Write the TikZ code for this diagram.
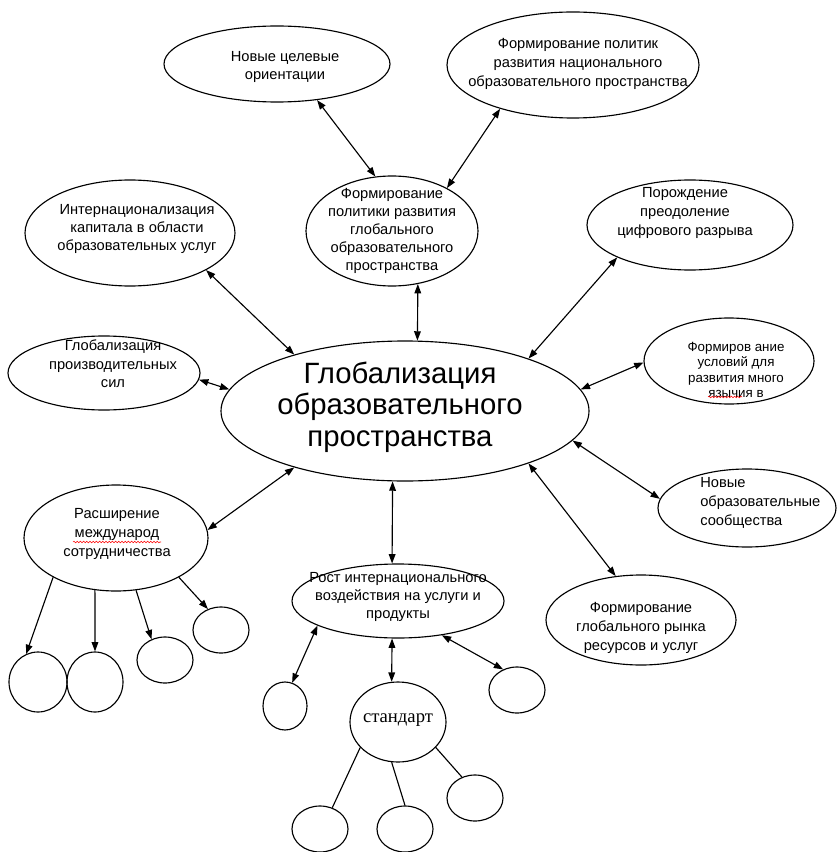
\documentclass[tikz,border=0pt]{standalone}
\usepackage{fontspec}
\setmainfont{Liberation Sans}
\newfontfamily\serifr{Liberation Serif}
\usetikzlibrary{shapes.geometric,arrows.meta,decorations.pathmorphing}
\tikzset{
 ov/.style={draw,ellipse,inner sep=0pt,line width=0.85pt},
 tx/.style={align=center,inner sep=0pt,font=\fontsize{11}{14}\selectfont},
 dbl/.style={line width=0.85pt,{Triangle[length=7pt,width=5pt]}-{Triangle[length=7pt,width=5pt]}},
 one/.style={line width=0.85pt,-{Triangle[length=7pt,width=5pt]}},
 pl/.style={line width=0.85pt},
 squig/.style={red,line width=0.4pt,decorate,decoration={snake,amplitude=0.6pt,segment length=2.4pt}}
}
\newcommand{\ovl}[5]{\node[ov,minimum width={#4*1.5pt},minimum height={#5*1.5pt}] (#1) at (#2,#3) {};}
\begin{document}
\begin{tikzpicture}[x=0.75pt,y=-0.75pt]
\useasboundingbox (0,0) rectangle (838,852);
% ellipses
\ovl{E1}{277}{64}{113}{38}
\ovl{E2}{573}{65}{126}{53}
\ovl{E3}{392}{231}{86}{55}
\ovl{E4}{130}{233}{105}{53}
\ovl{E5}{104}{373}{96}{37}
\ovl{C}{405}{411}{184}{70}
\ovl{E7}{690}{225}{103}{45}
\ovl{E8}{729}{361}{85}{43}
\ovl{E9}{747}{508}{89}{39}
\ovl{E10}{641}{620}{95}{45}
\ovl{E11}{116}{538}{92}{53}
\ovl{E12}{398}{601}{106}{37}
\ovl{s1}{38}{682}{29}{30}
\ovl{s2}{95}{682}{28}{30}
\ovl{s3}{165}{660}{28}{23}
\ovl{s4}{221}{630}{28}{23}
\ovl{sl}{285}{706}{22}{24}
\ovl{sr}{517}{690}{28}{23}
\ovl{st}{398}{722}{48}{40}
\ovl{b1}{320}{829}{28}{23}
\ovl{b2}{405}{829}{28}{23}
\ovl{b3}{475}{798}{28}{23}
% texts
\node[tx] (t1) at (285,67) {Новые целевые\\ориентации};
\node[tx] (t2) at (578,64) {Формирование политик\\развития национального\\образовательного пространства};
\node[tx,font=\fontsize{11}{13.5}\selectfont] (t3) at (392,231) {Формирование\\политики развития\\глобального\\образовательного\\пространства};
\node[tx,font=\fontsize{11}{13.2}\selectfont] (t4) at (137,229) {Интернационализация\\капитала в области\\образовательных услуг};
\node[tx] (t5) at (113,364) {Глобализация\\производительных\\сил};
\node[tx] (t7) at (685,213) {Порождение\\преодоление\\цифрового разрыва};
\node[tx,font=\fontsize{10}{11.5}\selectfont] (t8) at (736,370) {Формиров ание\\условий для\\развития много\\язычия в};
\node[tx,align=left,anchor=west] (t9) at (700,503) {Новые\\образовательные\\сообщества};
\node[tx] (t10) at (641,628) {Формирование\\глобального рынка\\ресурсов и услуг};
\node[tx] (t11) at (117,534) {Расширение\\международ\\сотрудничества};
\node[tx,font=\fontsize{11}{13.2}\selectfont] (t12) at (398,597) {Рост интернационального\\воздействия на услуги и\\продукты};
\node[tx,font=\serifr\fontsize{14}{16}\selectfont] (tst) at (398,720) {стандарт};
\node[tx,font=\fontsize{22}{23.5}\selectfont] (tc) at (400,407) {Глобализация\\образовательного\\пространства};
% spell-check squiggles
\draw[squig] (73,542) -- (161,542);
\draw[squig] (708,397) -- (742,397);
% arrows
\draw[dbl] (E1.318) -- (E3.107);
\draw[dbl] (E2.211) -- (E3.38);
\draw[dbl] (E3.296) -- (C.80);
\draw[dbl] (E4.334) -- (C.153);
\draw[dbl] (E5.356) -- (C.173);
\draw[dbl] (E11.5) -- (C.207);
\draw[dbl] (C.260) -- (E12.99);
\draw[dbl] (C.337) -- (E10.120);
\draw[dbl] (C.350) -- (E9.174);
\draw[dbl] (C.7) -- (E8.181);
\draw[dbl] (C.23) -- (E7.204);
\draw[dbl] (E12.197) -- (sl.73);
\draw[dbl] (E12.261) -- (st.99);
\draw[dbl] (E12.322) -- (sr.124);
\draw[pl] (st.214) -- (b1.60);
\draw[pl] (st.261) -- (b2.90);
\draw[pl] (st.326) -- (b3.122);
\draw[one] (E11.212) -- (s1.113);
\draw[one] (E11.248) -- (s2.90);
\draw[one] (E11.291) -- (s3.123);
\draw[one] (E11.328) -- (s4.122);
\end{tikzpicture}
\end{document}
